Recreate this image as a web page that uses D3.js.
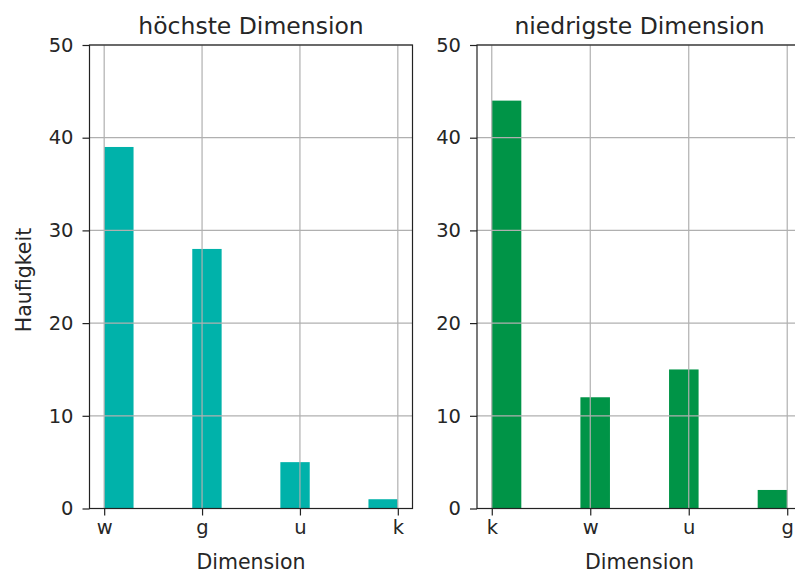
<!DOCTYPE html>
<html><head><meta charset="utf-8">
<script src="https://cdn.jsdelivr.net/npm/d3@7"></script>
<style>body{margin:0;background:#fff}svg{display:block}text{font-family:"DejaVu Sans",sans-serif;fill:#262626}</style>
</head><body><svg id="c" width="795" height="574"></svg>
<script>
const leftTitle = "höchste Dimension";
const leftCats = ["w", "g", "u", "k"];
const leftVals = [39, 28, 5, 1];
const rightTitle = "niedrigste Dimension";
const rightCats = ["k", "w", "u", "g"];
const rightVals = [44, 12, 15, 2];
const yTicks = [0, 10, 20, 30, 40, 50];
const xLabel = "Dimension";
const yLabel = "Haufigkeit";

const svg = d3.select("#c");
const plotTop = 45, plotBottom = 508.5;

function panel(x0, x1, title, cats, vals, color, showY) {
  // matplotlib hist of categorical strings: 10 bins over [0, n-1]
  const n = cats.length;
  const binW = (n - 1) / 10;
  const x = d3.scaleLinear().domain([-0.05*(n-1), (n-1)*1.05]).range([x0, x1]);
  const y = d3.scaleLinear().domain([0, 50]).range([plotBottom, plotTop]);
  const g = svg.append("g");
  const bars = cats.map((c, i) => {
    let b = Math.min(Math.floor(i / binW + 1e-9), 9);
    return {start: b * binW, end: (b + 1) * binW, v: vals[i]};
  });
  g.selectAll("rect.bar").data(bars).join("rect")
    .attr("x", d => x(d.start)).attr("width", d => x(d.end) - x(d.start))
    .attr("y", d => y(d.v)).attr("height", d => y(0) - y(d.v))
    .attr("fill", color);
  const grid = g.append("g").attr("stroke", "#b0b0b0").attr("stroke-width", 1.2);
  yTicks.forEach(t => grid.append("line").attr("x1", x0).attr("x2", x1).attr("y1", y(t)).attr("y2", y(t)));
  cats.forEach((c, i) => grid.append("line").attr("x1", x(i)).attr("x2", x(i)).attr("y1", plotTop).attr("y2", plotBottom));
  const xa = g.append("g").attr("transform", `translate(0,${plotBottom})`)
    .call(d3.axisBottom(x).tickValues(d3.range(n)).tickFormat(i => cats[i]).tickSize(7).tickPadding(5));
  const ya = g.append("g").attr("transform", `translate(${x0},0)`)
    .call(d3.axisLeft(y).tickValues(yTicks).tickSize(7).tickPadding(9));
  [xa, ya].forEach(a => {
    a.select(".domain").remove();
    a.selectAll("line").attr("stroke", "#222").attr("stroke-width", 1.2);
    a.selectAll("text").attr("font-size", "19.5px").attr("fill", "#262626").style("font-family", "DejaVu Sans");
  });
  g.append("rect").attr("x", x0).attr("y", plotTop).attr("width", x1 - x0).attr("height", plotBottom - plotTop)
    .attr("fill", "none").attr("stroke", "#222").attr("stroke-width", 1.2);
  g.append("text").attr("x", (x0 + x1) / 2).attr("y", 34).attr("text-anchor", "middle")
    .attr("font-size", "23.5px").text(title);
  g.append("text").attr("x", (x0 + x1) / 2).attr("y", 569).attr("text-anchor", "middle")
    .attr("font-size", "20.5px").text(xLabel);
  if (showY) {
    g.append("text").attr("transform", `translate(31,280) rotate(-90)`)
      .attr("text-anchor", "middle").attr("font-size", "20.5px").text(yLabel);
  }
}
panel(89.5, 412.5, leftTitle, leftCats, leftVals, "#00b2aa", true);
panel(477, 802, rightTitle, rightCats, rightVals, "#009447", false);
</script></body></html>
